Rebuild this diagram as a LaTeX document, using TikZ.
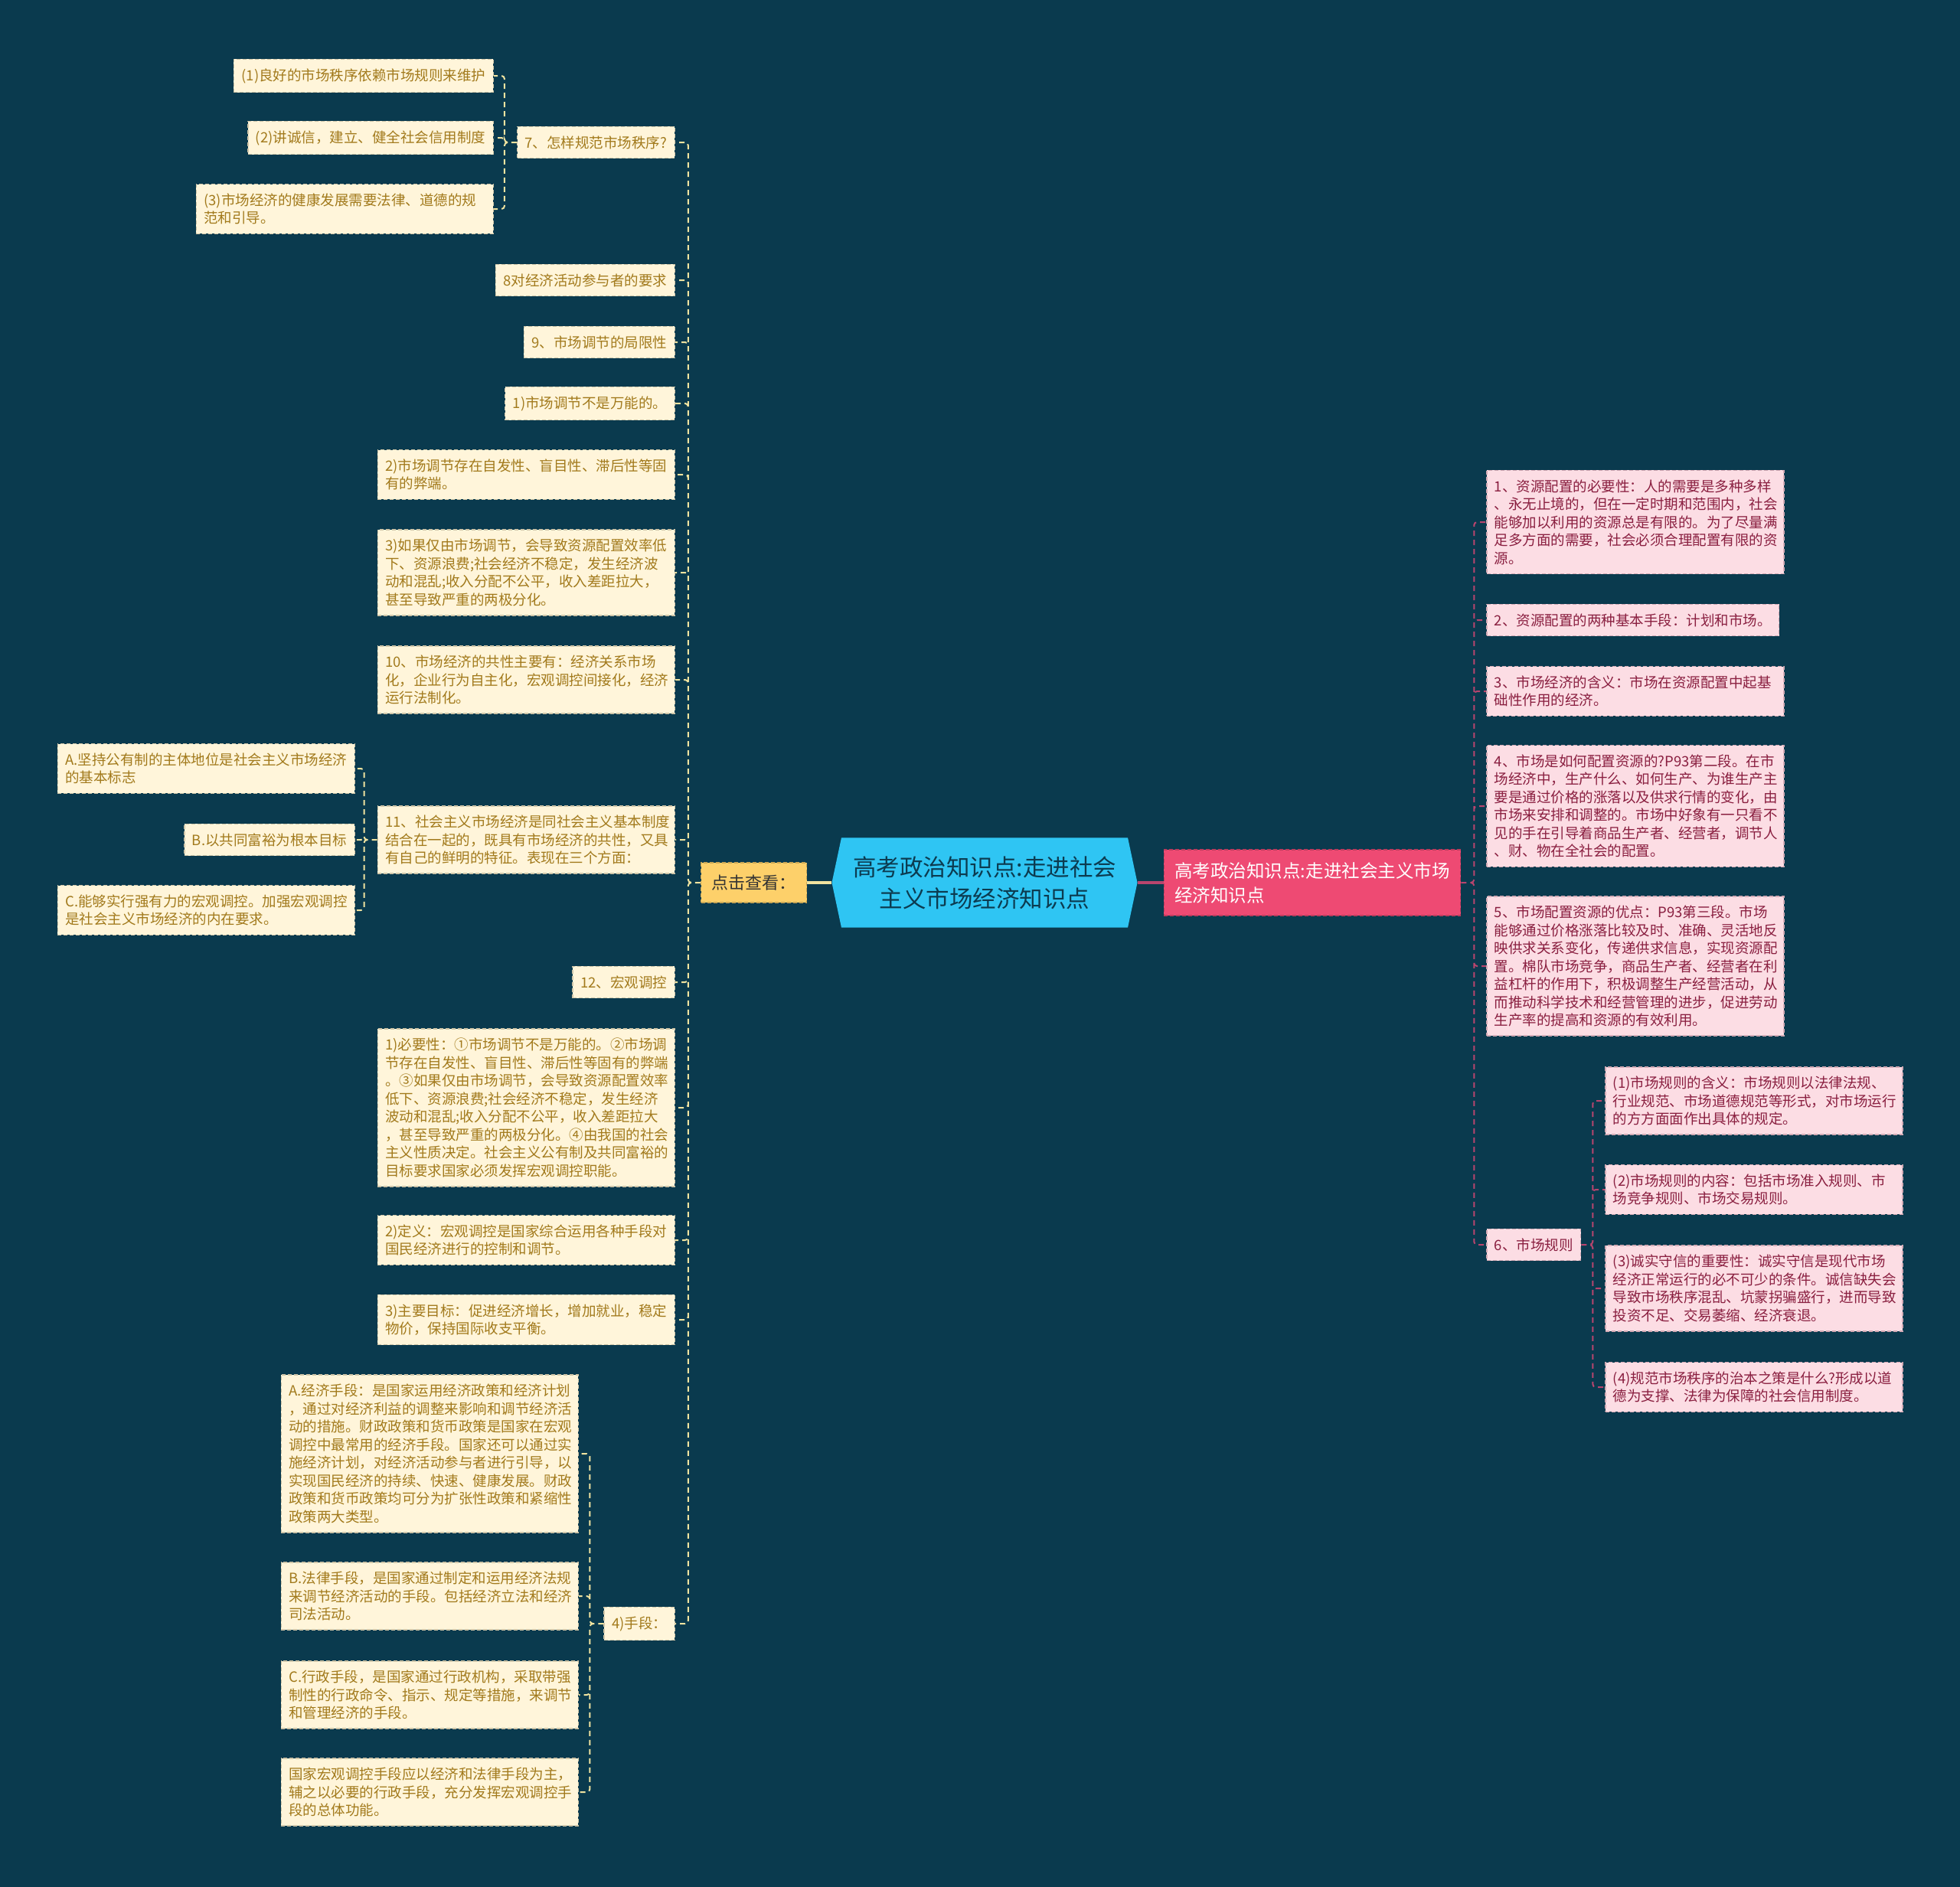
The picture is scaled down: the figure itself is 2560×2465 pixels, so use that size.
\documentclass[tikz,border=0pt]{standalone}
\usepackage{fontspec}
\setmainfont{Noto Sans CJK SC}
\usepackage{xcolor}
\usetikzlibrary{shapes.symbols,positioning}

\definecolor{bgc}{HTML}{0A3A4E}
\definecolor{creamfill}{HTML}{FFF5DA}
\definecolor{creamline}{HTML}{CFC5A8}
\definecolor{creamtext}{HTML}{A27A1C}
\definecolor{rosefill}{HTML}{FCDDE4}
\definecolor{roseline}{HTML}{D3AAB5}
\definecolor{rosetext}{HTML}{8A1F40}
\definecolor{mainpink}{HTML}{EE4A73}
\definecolor{rootcyan}{HTML}{2FC5F3}
\definecolor{roottext}{HTML}{0C3B50}
\definecolor{clickyellow}{HTML}{FDD06A}
\definecolor{lyellow}{HTML}{F0E3A0}
\definecolor{rpink}{HTML}{B8456E}

\tikzset{
  leaf/.style={draw=creamline, dash pattern=on 5pt off 3pt, line width=1.5pt, fill=creamfill,
    text=creamtext, font=\fontsize{18.5}{23.5}\selectfont, align=left, inner xsep=10pt, inner ysep=12pt},
  rose/.style={leaf, draw=roseline, fill=rosefill, text=rosetext},
  wide/.style={text width=368pt},
  lline/.style={draw=lyellow, line width=2pt, dash pattern=on 7pt off 5pt, rounded corners=4pt},
  rline/.style={lline, draw=rpink}
}

\begin{document}
\begin{tikzpicture}[x=1pt, y=-1pt]
    \fill[bgc] (0,0) rectangle (2560,2465);
    \useasboundingbox (0,0) rectangle (2560,2465);

    % centre
    \node[signal, signal to=west and east, signal pointer angle=156, fill=rootcyan, text=roottext,
      font=\fontsize{30.5}{41}\selectfont, align=center, inner xsep=12pt, inner ysep=24pt,
      minimum width=399pt] (root) at (1286,1153) {高考政治知识点:走进社会\\主义市场经济知识点};
    \node[fill=clickyellow, draw=clickyellow!80!black, dash pattern=on 5pt off 3pt, line width=1.5pt,
      text=black!80, font=\fontsize{22}{26}\selectfont, inner xsep=14pt, inner ysep=16pt,
      left=32pt of root] (click) {点击查看：};
    \node[fill=mainpink, draw=mainpink!80!black, dash pattern=on 5pt off 3pt, line width=1.5pt,
      text=white, font=\fontsize{23.5}{32}\selectfont, align=left, inner xsep=14pt, inner ysep=16pt,
      right=34pt of root] (main) {高考政治知识点:走进社会主义市场\\经济知识点};

    \draw[lyellow, line width=4pt] (root.west) -- (click.east);
    \draw[rpink, line width=4pt] (root.east) -- (main.west);

    % left branch
    \node[leaf, anchor=east] (n7) at (882,186) {7、怎样规范市场秩序?};
    \node[leaf, anchor=east] (n7a) at (645,99) {(1)良好的市场秩序依赖市场规则来维护};
    \node[leaf, anchor=east] (n7b) at (645,180) {(2)讲诚信，建立、健全社会信用制度};
    \node[leaf, wide, anchor=east] (n7c) at (645,273) {(3)市场经济的健康发展需要法律、道德的规\\范和引导。};
    \node[leaf, anchor=east] (n8) at (882,366) {8对经济活动参与者的要求};
    \node[leaf, anchor=east] (n9) at (882,447) {9、市场调节的局限性};
    \node[leaf, anchor=east] (n9a) at (882,527) {1)市场调节不是万能的。};
    \node[leaf, wide, anchor=east] (n9b) at (882,620) {2)市场调节存在自发性、盲目性、滞后性等固\\有的弊端。};
    \node[leaf, wide, anchor=east] (n9c) at (882,748) {3)如果仅由市场调节，会导致资源配置效率低\\下、资源浪费;社会经济不稳定，发生经济波\\动和混乱;收入分配不公平，收入差距拉大，\\甚至导致严重的两极分化。};
    \node[leaf, wide, anchor=east] (n10) at (882,888) {10、市场经济的共性主要有：经济关系市场\\化，企业行为自主化，宏观调控间接化，经济\\运行法制化。};
    \node[leaf, wide, anchor=east] (n11) at (882,1097) {11、社会主义市场经济是同社会主义基本制度\\结合在一起的，既具有市场经济的共性，又具\\有自己的鲜明的特征。表现在三个方面：};
    \node[leaf, wide, anchor=east] (n11a) at (464,1004) {A.坚持公有制的主体地位是社会主义市场经济\\的基本标志};
    \node[leaf, anchor=east] (n11b) at (464,1097) {B.以共同富裕为根本目标};
    \node[leaf, wide, anchor=east] (n11c) at (464,1189) {C.能够实行强有力的宏观调控。加强宏观调控\\是社会主义市场经济的内在要求。};
    \node[leaf, anchor=east] (n12) at (882,1283) {12、宏观调控};
    \node[leaf, wide, anchor=east] (n12a) at (882,1447) {1)必要性：①市场调节不是万能的。②市场调\\节存在自发性、盲目性、滞后性等固有的弊端\\。③如果仅由市场调节，会导致资源配置效率\\低下、资源浪费;社会经济不稳定，发生经济\\波动和混乱;收入分配不公平，收入差距拉大\\，甚至导致严重的两极分化。④由我国的社会\\主义性质决定。社会主义公有制及共同富裕的\\目标要求国家必须发挥宏观调控职能。};
    \node[leaf, wide, anchor=east] (n12b) at (882,1620) {2)定义：宏观调控是国家综合运用各种手段对\\国民经济进行的控制和调节。};
    \node[leaf, wide, anchor=east] (n12c) at (882,1724) {3)主要目标：促进经济增长，增加就业，稳定\\物价，保持国际收支平衡。};
    \node[leaf, anchor=east] (n12d) at (882,2121) {4)手段：};
    \node[leaf, wide, anchor=east] (n12d1) at (756,1899) {A.经济手段：是国家运用经济政策和经济计划\\，通过对经济利益的调整来影响和调节经济活\\动的措施。财政政策和货币政策是国家在宏观\\调控中最常用的经济手段。国家还可以通过实\\施经济计划，对经济活动参与者进行引导，以\\实现国民经济的持续、快速、健康发展。财政\\政策和货币政策均可分为扩张性政策和紧缩性\\政策两大类型。};
    \node[leaf, wide, anchor=east] (n12d2) at (756,2085) {B.法律手段，是国家通过制定和运用经济法规\\来调节经济活动的手段。包括经济立法和经济\\司法活动。};
    \node[leaf, wide, anchor=east] (n12d3) at (756,2214) {C.行政手段，是国家通过行政机构，采取带强\\制性的行政命令、指示、规定等措施，来调节\\和管理经济的手段。};
    \node[leaf, wide, anchor=east] (n12d4) at (756,2341) {国家宏观调控手段应以经济和法律手段为主，\\辅之以必要的行政手段，充分发挥宏观调控手\\段的总体功能。};

    % right branch
    \node[rose, wide, anchor=west] (r1) at (1941,682) {1、资源配置的必要性：人的需要是多种多样\\、永无止境的，但在一定时期和范围内，社会\\能够加以利用的资源总是有限的。为了尽量满\\足多方面的需要，社会必须合理配置有限的资\\源。};
    \node[rose, anchor=west] (r2) at (1941,810) {2、资源配置的两种基本手段：计划和市场。};
    \node[rose, wide, anchor=west] (r3) at (1941,903) {3、市场经济的含义：市场在资源配置中起基\\础性作用的经济。};
    \node[rose, wide, anchor=west] (r4) at (1941,1053) {4、市场是如何配置资源的?P93第二段。在市\\场经济中，生产什么、如何生产、为谁生产主\\要是通过价格的涨落以及供求行情的变化，由\\市场来安排和调整的。市场中好象有一只看不\\见的手在引导着商品生产者、经营者，调节人\\、财、物在全社会的配置。};
    \node[rose, wide, anchor=west] (r5) at (1941,1262) {5、市场配置资源的优点：P93第三段。市场\\能够通过价格涨落比较及时、准确、灵活地反\\映供求关系变化，传递供求信息，实现资源配\\置。棉队市场竞争，商品生产者、经营者在利\\益杠杆的作用下，积极调整生产经营活动，从\\而推动科学技术和经营管理的进步，促进劳动\\生产率的提高和资源的有效利用。};
    \node[rose, anchor=west] (r6) at (1941,1626) {6、市场规则};
    \node[rose, wide, anchor=west] (r6a) at (2096,1438) {(1)市场规则的含义：市场规则以法律法规、\\行业规范、市场道德规范等形式，对市场运行\\的方方面面作出具体的规定。};
    \node[rose, wide, anchor=west] (r6b) at (2096,1554) {(2)市场规则的内容：包括市场准入规则、市\\场竞争规则、市场交易规则。};
    \node[rose, wide, anchor=west] (r6c) at (2096,1683) {(3)诚实守信的重要性：诚实守信是现代市场\\经济正常运行的必不可少的条件。诚信缺失会\\导致市场秩序混乱、坑蒙拐骗盛行，进而导致\\投资不足、交易萎缩、经济衰退。};
    \node[rose, wide, anchor=west] (r6d) at (2096,1812) {(4)规范市场秩序的治本之策是什么?形成以道\\德为支撑、法律为保障的社会信用制度。};

    % connectors
    \draw[lline] (click.west) -- ++(-16,0) |- (n7.east)
                 (click.west) -- ++(-16,0) |- (n8.east)
                 (click.west) -- ++(-16,0) |- (n9.east)
                 (click.west) -- ++(-16,0) |- (n9a.east)
                 (click.west) -- ++(-16,0) |- (n9b.east)
                 (click.west) -- ++(-16,0) |- (n9c.east)
                 (click.west) -- ++(-16,0) |- (n10.east)
                 (click.west) -- ++(-16,0) |- (n11.east)
                 (click.west) -- ++(-16,0) |- (n12.east)
                 (click.west) -- ++(-16,0) |- (n12a.east)
                 (click.west) -- ++(-16,0) |- (n12b.east)
                 (click.west) -- ++(-16,0) |- (n12c.east)
                 (click.west) -- ++(-16,0) |- (n12d.east);
    \draw[lline] (n7.west) -- ++(-16,0) |- (n7a.east)
                 (n7.west) -- ++(-16,0) |- (n7b.east)
                 (n7.west) -- ++(-16,0) |- (n7c.east);
    \draw[lline] (n11.west) -- ++(-17,0) |- (n11a.east)
                 (n11.west) -- ++(-17,0) |- (n11b.east)
                 (n11.west) -- ++(-17,0) |- (n11c.east);
    \draw[lline] (n12d.west) -- ++(-18,0) |- (n12d1.east)
                 (n12d.west) -- ++(-18,0) |- (n12d2.east)
                 (n12d.west) -- ++(-18,0) |- (n12d3.east)
                 (n12d.west) -- ++(-18,0) |- (n12d4.east);
    \draw[rline] (main.east) -- ++(17,0) |- (r1.west)
                 (main.east) -- ++(17,0) |- (r2.west)
                 (main.east) -- ++(17,0) |- (r3.west)
                 (main.east) -- ++(17,0) |- (r4.west)
                 (main.east) -- ++(17,0) |- (r5.west)
                 (main.east) -- ++(17,0) |- (r6.west);
    \draw[rline] (r6.east) -- ++(15,0) |- (r6a.west)
                 (r6.east) -- ++(15,0) |- (r6b.west)
                 (r6.east) -- ++(15,0) |- (r6c.west)
                 (r6.east) -- ++(15,0) |- (r6d.west);
\end{tikzpicture}
\end{document}
